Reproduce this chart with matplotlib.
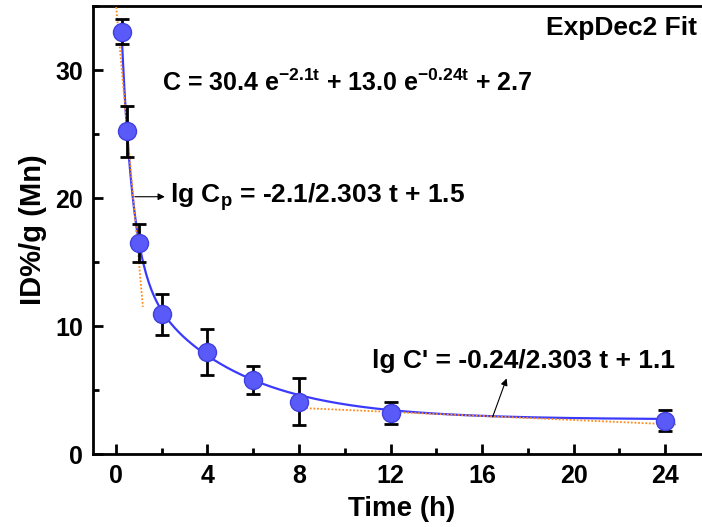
import numpy as np
import matplotlib
matplotlib.use("Agg")
import matplotlib.pyplot as plt
from matplotlib.ticker import MultipleLocator

# measured data (time in h, ID%/g)
time_h = [0.25, 0.5, 1, 2, 4, 6, 8, 12, 24]
conc = [33.0, 25.2, 16.5, 10.9, 8.0, 5.8, 4.1, 3.2, 2.6]
conc_err = [1.0, 2.0, 1.5, 1.6, 1.8, 1.1, 1.85, 0.85, 0.8]

# ExpDec2 fit parameters, as printed on the chart
A1, k1 = 30.4, 2.1
A2, k2 = 13.0, 0.24
C0 = 2.7

# dotted tangent lines (end points)
fast_t = [0.0, 1.18]
fast_c = [35.2, 11.5]
slow_t = [8.0, 24.5]
slow_c = [3.6, 2.3]

plt.rcParams['font.family'] = ['Liberation Sans', 'DejaVu Sans']
plt.rcParams['font.weight'] = 'bold'
plt.rcParams['mathtext.fontset'] = 'custom'
plt.rcParams['mathtext.rm'] = 'Liberation Sans:bold'
plt.rcParams['mathtext.bf'] = 'Liberation Sans:bold'
plt.rcParams['mathtext.it'] = 'Liberation Sans:bold'

fig = plt.figure(figsize=(7.02, 5.27), dpi=100)
# right spine falls outside the picture, like the original crop
ax = fig.add_axes([93 / 702, 73 / 527, 618 / 702, 448 / 527])

t_fit = np.linspace(time_h[0], time_h[-1], 400)
c_fit = A1 * np.exp(-k1 * t_fit) + A2 * np.exp(-k2 * t_fit) + C0
ax.plot(t_fit, c_fit, color='#3a3aff', lw=1.6, zorder=2)

ax.plot(fast_t, fast_c, color='#ff8c1a', lw=1.3, ls=(0, (1, 1)), zorder=3)
ax.plot(slow_t, slow_c, color='#ff8c1a', lw=1.3, ls=(0, (1, 1)), zorder=3)

ax.errorbar(time_h, conc, yerr=conc_err, fmt='none', ecolor='black',
            elinewidth=2, capsize=5, capthick=2, zorder=4)
ax.plot(time_h, conc, 'o', ms=13, mfc='#5a5af8', mec='#4040e0', mew=1,
        zorder=5)

ax.set_xlim(-1, 26)
ax.set_ylim(0, 35)
ax.xaxis.set_major_locator(MultipleLocator(4))
ax.xaxis.set_minor_locator(MultipleLocator(2))
ax.yaxis.set_major_locator(MultipleLocator(10))
ax.yaxis.set_minor_locator(MultipleLocator(5))
ax.tick_params(which='both', direction='in', width=2, labelsize=18,
               top=False, right=False)
ax.tick_params(which='major', length=7, pad=7)
ax.tick_params(which='minor', length=4)
for s in ax.spines.values():
    s.set_linewidth(2)

ax.set_xlabel('Time (h)', fontsize=20, fontweight='bold', labelpad=6)
ax.set_ylabel('ID%/g (Mn)', fontsize=21, fontweight='bold', labelpad=6)

ax.text(25.4, 33.3, 'ExpDec2 Fit', fontsize=19, fontweight='bold',
        ha='right', va='center')
ax.text(2.0, 29.0,
        r'C = 30.4 e$^{-2.1t}$ + 13.0 e$^{-0.24t}$ + 2.7',
        fontsize=18, fontweight='bold', ha='left', va='center')
ax.text(2.36, 20.1, r'lg C$_{p}$ = -2.1/2.303 t + 1.5',
        fontsize=19, fontweight='bold', ha='left', va='center')
ax.text(11.2, 7.3, "lg C' = -0.24/2.303 t + 1.1",
        fontsize=19, fontweight='bold', ha='left', va='center')

ax.annotate('', xy=(2.14, 20.1), xytext=(0.83, 20.1),
            arrowprops=dict(arrowstyle='-|>', color='black', lw=0.8,
                            mutation_scale=10, shrinkA=0, shrinkB=0))
ax.annotate('', xy=(17.07, 5.9), xytext=(16.46, 2.9),
            arrowprops=dict(arrowstyle='-|>', color='black', lw=0.8,
                            mutation_scale=10, shrinkA=0, shrinkB=0))

fig.savefig('out.png', dpi=100)
